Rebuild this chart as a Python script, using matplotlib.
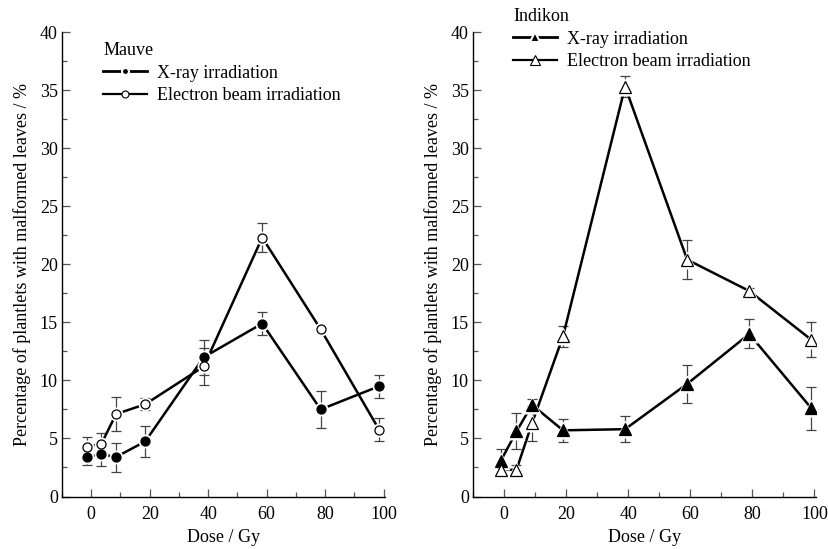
import matplotlib
matplotlib.use("Agg")
import matplotlib.pyplot as plt
from matplotlib.ticker import MultipleLocator
from matplotlib.lines import Line2D

plt.rcParams['font.family'] = ['Liberation Serif', 'DejaVu Serif']
plt.rcParams['mathtext.fontset'] = 'stix'

# ---- data ----
dose_left = [-1.5, 3.5, 8.5, 18.5, 38.5, 58.5, 78.5, 98.5]
mauve_xray = [3.4, 3.65, 3.4, 4.75, 12.0, 14.9, 7.5, 9.5]
mauve_xray_err = [0.7, 1.05, 1.25, 1.35, 1.5, 0.95, 1.6, 1.0]
mauve_eb = [4.3, 4.55, 7.1, 7.95, 11.2, 22.3, 14.4, 5.75]
mauve_eb_err = [0.85, 0.9, 1.5, 0.5, 1.6, 1.25, 0.3, 1.0]

dose_right = [-1.0, 4.0, 9.0, 19.0, 39.0, 59.0, 79.0, 99.0]
indikon_xray = [3.1, 5.6, 7.9, 5.7, 5.8, 9.7, 14.0, 7.6]
indikon_xray_err = [0.95, 1.55, 0.5, 1.0, 1.1, 1.65, 1.25, 1.85]
indikon_eb = [2.3, 2.3, 6.3, 13.8, 35.3, 20.4, 17.7, 13.5]
indikon_eb_err = [0.5, 0.4, 1.5, 0.9, 0.9, 1.65, 0.3, 1.5]

xticks = [0, 20, 40, 60, 80, 100]
yticks = [0, 5, 10, 15, 20, 25, 30, 35, 40]
ylabel = "Percentage of plantlets with malformed leaves / %"
xlabel = "Dose / Gy"

FS = 13
fig = plt.figure(figsize=(8.29, 5.49), dpi=100)
axL = fig.add_axes([0.0748, 0.0956, 0.3896, 0.846])
axR = fig.add_axes([0.5706, 0.0956, 0.4137, 0.846])


def series(ax, x, y, err, marker, filled, ms):
    ax.errorbar(x, y, yerr=err, fmt='none', ecolor='#444444', elinewidth=0.9,
                capsize=3.5, capthick=0.9, zorder=2)
    ax.plot(x, y, '-', color='black', lw=1.8, zorder=3)
    ax.plot(x, y, linestyle='none', marker=marker, ms=ms + 3.5, mfc='white',
            mec='none', zorder=4)
    ax.plot(x, y, linestyle='none', marker=marker, ms=ms,
            mfc='black' if filled else 'white', mec='black', mew=0.9, zorder=5)


series(axL, dose_left, mauve_xray, mauve_xray_err, 'o', True, 6.5)
series(axL, dose_left, mauve_eb, mauve_eb_err, 'o', False, 6.5)
series(axR, dose_right, indikon_xray, indikon_xray_err, '^', True, 9)
series(axR, dose_right, indikon_eb, indikon_eb_err, '^', False, 9)

for ax in (axL, axR):
    ax.set_xlim(-10, 100.5)
    ax.set_ylim(0, 40)
    ax.set_xticks(xticks)
    ax.set_yticks(yticks)
    ax.xaxis.set_minor_locator(MultipleLocator(10))
    ax.yaxis.set_minor_locator(MultipleLocator(2.5))
    ax.tick_params(which='major', direction='in', length=6, width=0.9,
                   labelsize=FS, color='#555555')
    ax.tick_params(which='minor', direction='in', length=3.5, width=0.9,
                   color='#555555')
    ax.tick_params(axis='x', which='major', pad=7)
    ax.tick_params(axis='y', which='major', pad=3)
    ax.spines['top'].set_visible(False)
    ax.spines['right'].set_visible(False)
    ax.spines['left'].set_linewidth(1.0)
    ax.spines['bottom'].set_linewidth(1.0)
    ax.set_xlabel(xlabel, fontsize=FS, labelpad=4)
    ax.set_ylabel(ylabel, fontsize=FS, labelpad=6)


def legend(ax, title, marker, ms):
    h1 = Line2D([], [], color='black', lw=2.0, marker=marker, ms=ms,
                mfc='black', mec='white', mew=1.5)
    h2 = Line2D([], [], color='black', lw=1.6, marker=marker, ms=ms,
                mfc='white', mec='black', mew=0.8)
    leg = ax.legend([h1, h2], ["X-ray irradiation", "Electron beam irradiation"],
                    title=title, frameon=False, fontsize=FS, title_fontsize=FS,
                    handlelength=2.4, handletextpad=0.6, labelspacing=0.3,
                    borderaxespad=0, loc='upper left')
    leg._legend_box.align = 'left'
    return leg


legL = legend(axL, "Mauve", 'o', 5)
legL.set_bbox_to_anchor((96 / 829, 1 - 35 / 549), transform=fig.transFigure)
legR = legend(axR, "Indikon", '^', 6.5)
legR.set_bbox_to_anchor((506 / 829, 1 - 1 / 549), transform=fig.transFigure)

fig.savefig("out.png", dpi=100)
